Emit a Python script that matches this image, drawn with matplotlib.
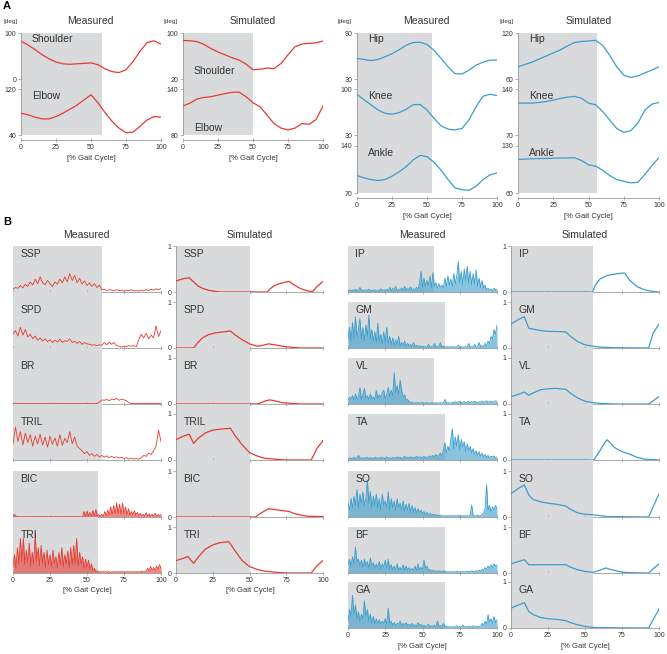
import numpy as np
import matplotlib.pyplot as plt

plt.rcParams['font.family'] = ['Liberation Sans', 'DejaVu Sans']

RED = '#e53b30'
BLUE = '#3a9dcb'
SHADE = '#d9dadb'
AXC = '#9a9a9a'
TXT = '#333333'
W, H = 667, 654

gait = np.arange(0, 101, 5)
xticks = [0, 25, 50, 75, 100]

# ---------------- A: joint angles [deg], every 5 % of gait cycle ----------------
shoulder_meas = [82, 74, 64, 53, 44, 37, 33, 32, 33, 34, 35, 31, 22, 16, 14, 20, 38, 60, 79, 83, 76]
elbow_meas = [78, 75, 71, 68, 68, 72, 78, 85, 92, 101, 110, 96, 79, 64, 52, 44, 45, 55, 66, 72, 71]
shoulder_sim = [87, 86.5, 85, 80, 73, 67, 62, 57, 53, 46, 36, 37, 39, 38, 47, 62, 76, 81, 82, 83, 86]
elbow_sim = [118, 121.6, 127, 129, 130, 132, 134, 135.6, 136, 130, 122, 117, 106, 95, 89, 86.6, 89, 95, 94, 100, 118]
hip_meas = [57, 55.5, 54, 55.5, 59, 63, 68, 74, 77.5, 78, 75, 67.5, 57, 46, 37, 36.5, 41.6, 48, 52, 54.6, 54.6]
knee_meas = [92, 83.6, 76, 68, 63, 61.7, 64, 69, 76, 76.5, 68, 55.5, 44, 39, 37.7, 40, 53, 73, 89, 92, 90]
ankle_meas = [96, 92.5, 90, 88.5, 90, 95, 101.5, 109, 119, 126, 124, 116, 104, 90, 77.5, 75, 74, 80, 90, 97, 100]
hip_sim = [76, 79, 82, 86, 90, 94, 98, 103, 107.5, 109, 109.6, 110.5, 104, 91, 76, 65, 62, 64, 68, 71.7, 76]
knee_sim = [118.5, 118.5, 118.5, 119.5, 121, 123, 125.7, 127.5, 128.8, 126, 118.5, 116, 106, 93, 80, 74, 76.6, 88, 108, 117, 119.6]
ankle_sim = [110, 110.5, 111, 111.2, 111.5, 111.8, 112, 112.2, 112.5, 108.5, 102, 100, 94, 86, 80, 77.5, 75, 76, 87.5, 101, 112.5]

# ---------------- B: measured EMG (normalised), evenly spaced over the cycle ----------------
ssp_meas = [0.06, 0.10, 0.08, 0.14, 0.09, 0.17, 0.12, 0.22, 0.15, 0.28, 0.18, 0.33, 0.20, 0.16, 0.25, 0.18,
            0.12, 0.22, 0.17, 0.28, 0.20, 0.33, 0.22, 0.40, 0.25, 0.36, 0.20, 0.30, 0.17, 0.24, 0.14, 0.20,
            0.12, 0.18, 0.10, 0.15, 0.05, 0.06, 0.03, 0.05, 0.04, 0.03, 0.05, 0.03, 0.04, 0.02, 0.04, 0.03,
            0.05, 0.02, 0.03, 0.02, 0.04, 0.03, 0.05, 0.03, 0.06, 0.04, 0.07, 0.05, 0.08]
spd_meas = [0.30, 0.38, 0.26, 0.45, 0.28, 0.40, 0.24, 0.30, 0.20, 0.26, 0.17, 0.22, 0.15, 0.20, 0.14, 0.18,
            0.12, 0.17, 0.13, 0.19, 0.12, 0.16, 0.14, 0.20, 0.12, 0.15, 0.10, 0.14, 0.08, 0.12, 0.09, 0.08,
            0.06, 0.07, 0.05, 0.07, 0.06, 0.12, 0.07, 0.13, 0.08, 0.12, 0.05, 0.04, 0.02, 0.04, 0.03, 0.05,
            0.04, 0.05, 0.03, 0.18, 0.30, 0.22, 0.32, 0.20, 0.28, 0.22, 0.48, 0.25, 0.38]
br_meas = [0.01, 0.015, 0.01, 0.012, 0.01, 0.015, 0.01, 0.012, 0.01, 0.015, 0.01, 0.012, 0.01, 0.015, 0.01,
           0.012, 0.01, 0.015, 0.01, 0.012, 0.01, 0.015, 0.01, 0.012, 0.01, 0.015, 0.01, 0.012, 0.01, 0.015,
           0.01, 0.012, 0.01, 0.015, 0.01, 0.04, 0.09, 0.08, 0.10, 0.07, 0.11, 0.09, 0.12, 0.08, 0.11, 0.09,
           0.07, 0.03, 0.01, 0.01, 0.012, 0.01, 0.015, 0.01, 0.012, 0.01, 0.015, 0.01, 0.012, 0.01, 0.01]
tril_meas = [0.35, 0.72, 0.40, 0.62, 0.33, 0.58, 0.38, 0.55, 0.30, 0.52, 0.35, 0.56, 0.32, 0.50, 0.28, 0.52,
             0.34, 0.48, 0.30, 0.55, 0.32, 0.47, 0.38, 0.62, 0.35, 0.50, 0.30, 0.25, 0.20, 0.14, 0.18, 0.10,
             0.14, 0.08, 0.12, 0.07, 0.10, 0.06, 0.09, 0.05, 0.08, 0.05, 0.07, 0.04, 0.06, 0.03, 0.05, 0.02,
             0.04, 0.02, 0.03, 0.02, 0.05, 0.10, 0.08, 0.15, 0.12, 0.20, 0.30, 0.65, 0.40]
bic_meas = [0.00, 0.06, 0.00, 0.02, 0.00, 0.01, 0.00, 0.01, 0.00, 0.01,
            0.00, 0.01, 0.00, 0.01, 0.00, 0.01, 0.00, 0.01, 0.00, 0.01,
            0.00, 0.01, 0.00, 0.01, 0.00, 0.01, 0.00, 0.01, 0.00, 0.01,
            0.00, 0.01, 0.00, 0.01, 0.00, 0.01, 0.00, 0.01, 0.00, 0.01,
            0.00, 0.01, 0.00, 0.01, 0.00, 0.01, 0.00, 0.01, 0.12, 0.01,
            0.13, 0.02, 0.10, 0.01, 0.14, 0.02, 0.16, 0.03, 0.05, 0.01,
            0.06, 0.01, 0.12, 0.03, 0.15, 0.04, 0.22, 0.05, 0.25, 0.06,
            0.30, 0.08, 0.28, 0.05, 0.30, 0.07, 0.22, 0.05, 0.18, 0.04,
            0.12, 0.05, 0.14, 0.04, 0.10, 0.03, 0.08, 0.02, 0.06, 0.02,
            0.09, 0.02, 0.07, 0.01, 0.06, 0.02, 0.08, 0.02, 0.05, 0.03, 0.06]
tri_meas = [0.15, 0.40, 0.10, 0.55, 0.20, 0.75, 0.25, 0.75, 0.18, 0.50,
            0.22, 0.65, 0.15, 0.45, 0.20, 0.85, 0.25, 0.55, 0.15, 0.60,
            0.20, 0.45, 0.12, 0.50, 0.18, 0.40, 0.15, 0.50, 0.20, 0.35,
            0.12, 0.45, 0.18, 0.55, 0.15, 0.40, 0.20, 0.48, 0.12, 0.55,
            0.18, 0.60, 0.20, 0.75, 0.15, 0.45, 0.20, 0.35, 0.10, 0.30,
            0.12, 0.28, 0.08, 0.20, 0.05, 0.10, 0.03, 0.05, 0.02, 0.03,
            0.02, 0.03, 0.02, 0.03, 0.02, 0.03, 0.01, 0.03, 0.02, 0.03,
            0.02, 0.03, 0.02, 0.03, 0.02, 0.03, 0.01, 0.03, 0.02, 0.03,
            0.02, 0.03, 0.02, 0.03, 0.02, 0.03, 0.02, 0.04, 0.02, 0.03,
            0.04, 0.10, 0.05, 0.14, 0.06, 0.12, 0.05, 0.15, 0.08, 0.18, 0.10]
ip_meas = [0.03, 0.05, 0.02, 0.04, 0.03, 0.06, 0.02, 0.04, 0.10, 0.03,
           0.04, 0.02, 0.05, 0.03, 0.06, 0.02, 0.04, 0.03, 0.05, 0.02,
           0.04, 0.03, 0.07, 0.02, 0.05, 0.03, 0.06, 0.02, 0.10, 0.03,
           0.08, 0.04, 0.12, 0.03, 0.06, 0.04, 0.09, 0.03, 0.12, 0.04,
           0.08, 0.05, 0.11, 0.04, 0.07, 0.05, 0.10, 0.06, 0.20, 0.45,
           0.10, 0.30, 0.12, 0.25, 0.15, 0.35, 0.10, 0.42, 0.12, 0.20,
           0.08, 0.18, 0.10, 0.15, 0.08, 0.30, 0.12, 0.35, 0.15, 0.28,
           0.12, 0.40, 0.18, 0.35, 0.66, 0.20, 0.45, 0.15, 0.50, 0.25,
           0.56, 0.20, 0.45, 0.15, 0.40, 0.18, 0.48, 0.12, 0.30, 0.10,
           0.25, 0.08, 0.15, 0.05, 0.08, 0.04, 0.06, 0.03, 0.08, 0.04, 0.06]
gm_meas = [0.20, 0.45, 0.15, 0.55, 0.20, 0.68, 0.25, 0.40, 0.64, 0.20,
           0.45, 0.15, 0.50, 0.25, 0.71, 0.20, 0.40, 0.15, 0.35, 0.12,
           0.54, 0.15, 0.30, 0.10, 0.35, 0.12, 0.45, 0.10, 0.25, 0.08,
           0.22, 0.06, 0.18, 0.08, 0.25, 0.05, 0.12, 0.06, 0.15, 0.04,
           0.10, 0.05, 0.08, 0.03, 0.12, 0.04, 0.06, 0.03, 0.05, 0.02,
           0.04, 0.02, 0.03, 0.02, 0.08, 0.02, 0.03, 0.02, 0.10, 0.02,
           0.03, 0.02, 0.12, 0.02, 0.04, 0.02, 0.03, 0.02, 0.02, 0.03,
           0.02, 0.03, 0.02, 0.02, 0.06, 0.02, 0.03, 0.02, 0.02, 0.03,
           0.02, 0.10, 0.02, 0.03, 0.02, 0.08, 0.02, 0.03, 0.12, 0.03,
           0.05, 0.03, 0.10, 0.04, 0.15, 0.10, 0.25, 0.20, 0.40, 0.30, 0.50]
vl_meas = [0.08, 0.15, 0.10, 0.18, 0.08, 0.22, 0.12, 0.15, 0.36, 0.10,
           0.20, 0.34, 0.12, 0.18, 0.10, 0.22, 0.12, 0.15, 0.10, 0.30,
           0.12, 0.20, 0.15, 0.25, 0.30, 0.12, 0.20, 0.36, 0.15, 0.30,
           0.18, 0.68, 0.25, 0.40, 0.20, 0.52, 0.30, 0.15, 0.20, 0.08,
           0.10, 0.05, 0.04, 0.03, 0.02, 0.03, 0.02, 0.03, 0.02, 0.02,
           0.03, 0.02, 0.02, 0.03, 0.02, 0.02, 0.03, 0.02, 0.02, 0.03,
           0.02, 0.02, 0.03, 0.02, 0.02, 0.10, 0.02, 0.03, 0.02, 0.02,
           0.04, 0.03, 0.05, 0.03, 0.04, 0.06, 0.03, 0.04, 0.05, 0.03,
           0.04, 0.06, 0.03, 0.05, 0.04, 0.06, 0.04, 0.03, 0.05, 0.04,
           0.06, 0.03, 0.05, 0.07, 0.04, 0.05, 0.06, 0.04, 0.05, 0.07, 0.06]
ta_meas = [0.03, 0.05, 0.03, 0.04, 0.06, 0.03, 0.05, 0.10, 0.04, 0.05,
           0.03, 0.05, 0.04, 0.06, 0.03, 0.05, 0.04, 0.03, 0.06, 0.04,
           0.05, 0.03, 0.06, 0.04, 0.05, 0.03, 0.07, 0.04, 0.05, 0.03,
           0.06, 0.04, 0.05, 0.07, 0.04, 0.06, 0.03, 0.05, 0.08, 0.04,
           0.06, 0.05, 0.07, 0.04, 0.06, 0.05, 0.08, 0.05, 0.07, 0.05,
           0.06, 0.08, 0.05, 0.07, 0.06, 0.09, 0.06, 0.10, 0.07, 0.12,
           0.08, 0.10, 0.15, 0.08, 0.22, 0.38, 0.15, 0.30, 0.20, 0.45,
           0.68, 0.25, 0.50, 0.30, 0.55, 0.22, 0.45, 0.28, 0.40, 0.18,
           0.35, 0.20, 0.30, 0.15, 0.25, 0.12, 0.20, 0.10, 0.18, 0.08,
           0.15, 0.07, 0.12, 0.06, 0.10, 0.05, 0.08, 0.06, 0.09, 0.05, 0.07]
so_meas = [0.30, 0.15, 0.40, 0.20, 0.45, 0.25, 0.60, 0.20, 0.50, 0.30,
           0.55, 0.25, 0.40, 0.80, 0.30, 0.55, 0.20, 0.45, 0.25, 0.50,
           0.20, 0.40, 0.15, 0.50, 0.25, 0.35, 0.20, 0.55, 0.15, 0.40,
           0.20, 0.35, 0.15, 0.40, 0.20, 0.30, 0.15, 0.35, 0.12, 0.28,
           0.15, 0.30, 0.10, 0.25, 0.12, 0.20, 0.08, 0.18, 0.10, 0.15,
           0.08, 0.12, 0.06, 0.10, 0.05, 0.08, 0.04, 0.06, 0.05, 0.04,
           0.05, 0.03, 0.04, 0.02, 0.03, 0.02, 0.03, 0.02, 0.03, 0.02,
           0.03, 0.02, 0.03, 0.02, 0.04, 0.02, 0.03, 0.02, 0.03, 0.02,
           0.03, 0.02, 0.04, 0.26, 0.03, 0.02, 0.03, 0.04, 0.02, 0.03,
           0.05, 0.10, 0.18, 0.70, 0.15, 0.25, 0.12, 0.22, 0.15, 0.25, 0.18]
bf_meas = [0.20, 0.30, 0.15, 0.35, 0.20, 0.56, 0.25, 0.30, 0.15, 0.28,
           0.12, 0.30, 0.15, 0.25, 0.10, 0.33, 0.15, 0.22, 0.10, 0.20,
           0.12, 0.25, 0.08, 0.20, 0.12, 0.28, 0.10, 0.30, 0.08, 0.18,
           0.06, 0.15, 0.08, 0.20, 0.05, 0.12, 0.07, 0.18, 0.05, 0.15,
           0.06, 0.12, 0.05, 0.10, 0.06, 0.15, 0.05, 0.20, 0.06, 0.12,
           0.08, 0.28, 0.10, 0.15, 0.05, 0.08, 0.04, 0.06, 0.04, 0.05,
           0.03, 0.05, 0.03, 0.04, 0.03, 0.05, 0.02, 0.03, 0.02, 0.03,
           0.02, 0.03, 0.02, 0.04, 0.02, 0.03, 0.02, 0.03, 0.02, 0.03,
           0.03, 0.04, 0.02, 0.05, 0.03, 0.04, 0.05, 0.03, 0.06, 0.04,
           0.08, 0.05, 0.12, 0.08, 0.15, 0.10, 0.18, 0.12, 0.20, 0.15, 0.18]
ga_meas = [0.15, 0.40, 0.25, 0.71, 0.30, 0.50, 0.20, 0.35, 0.15, 0.30,
           0.20, 0.59, 0.25, 0.40, 0.15, 0.30, 0.10, 0.25, 0.08, 0.20,
           0.10, 0.18, 0.08, 0.15, 0.10, 0.20, 0.08, 0.43, 0.10, 0.15,
           0.06, 0.12, 0.05, 0.10, 0.08, 0.15, 0.05, 0.10, 0.06, 0.12,
           0.05, 0.08, 0.04, 0.10, 0.05, 0.07, 0.04, 0.12, 0.05, 0.08,
           0.04, 0.06, 0.03, 0.05, 0.08, 0.03, 0.05, 0.04, 0.06, 0.03,
           0.15, 0.04, 0.05, 0.03, 0.10, 0.03, 0.04, 0.02, 0.03, 0.02,
           0.03, 0.02, 0.03, 0.05, 0.02, 0.03, 0.02, 0.06, 0.02, 0.03,
           0.02, 0.04, 0.02, 0.03, 0.05, 0.02, 0.03, 0.04, 0.02, 0.05,
           0.10, 0.06, 0.15, 0.08, 0.29, 0.12, 0.20, 0.10, 0.25, 0.12, 0.18]

# ---------------- B: simulated activations (x in % gait cycle) ----------------
ssp_sim_x = [0, 5, 9, 12, 15, 18, 22, 26, 30, 62, 64, 67, 70, 74, 77, 80, 85, 90, 93, 96, 100]
ssp_sim = [0.24, 0.29, 0.31, 0.22, 0.13, 0.08, 0.04, 0.015, 0, 0, 0.07, 0.14, 0.18, 0.21, 0.23, 0.16, 0.07, 0.02, 0.01, 0.12, 0.23]
spd_sim_x = [0, 12, 15, 18, 22, 27, 32, 37, 40, 45, 50, 55, 58, 63, 67, 72, 80, 85, 100]
spd_sim = [0, 0, 0.12, 0.22, 0.29, 0.33, 0.35, 0.37, 0.29, 0.18, 0.09, 0.04, 0.05, 0.09, 0.07, 0.04, 0.01, 0, 0]
br_sim_x = [0, 55, 58, 61, 64, 67, 72, 80, 85, 100]
br_sim = [0, 0, 0.03, 0.07, 0.09, 0.07, 0.03, 0.01, 0, 0]
tril_sim_x = [0, 5, 9, 12, 15, 20, 25, 30, 37, 40, 45, 50, 55, 60, 70, 75, 92, 96, 100]
tril_sim = [0.44, 0.52, 0.56, 0.36, 0.47, 0.59, 0.65, 0.67, 0.69, 0.54, 0.33, 0.16, 0.09, 0.04, 0.01, 0, 0, 0.26, 0.42]
bic_sim_x = [0, 54, 58, 63, 70, 77, 80, 85, 90, 100]
bic_sim = [0, 0, 0.09, 0.18, 0.15, 0.12, 0.08, 0.04, 0.015, 0.01]
tri_sim_x = [0, 5, 8, 12, 15, 20, 25, 30, 36, 40, 45, 50, 55, 60, 70, 75, 92, 96, 100]
tri_sim = [0.27, 0.32, 0.36, 0.21, 0.34, 0.52, 0.61, 0.66, 0.68, 0.49, 0.27, 0.14, 0.08, 0.04, 0.01, 0, 0, 0.16, 0.27]
ip_sim_x = [0, 55, 57, 60, 65, 70, 75, 77, 80, 85, 90, 95, 100]
ip_sim = [0, 0, 0.15, 0.28, 0.36, 0.39, 0.41, 0.41, 0.26, 0.12, 0.05, 0.015, 0]
gm_sim_x = [0, 5, 9, 12, 15, 20, 25, 30, 37, 40, 45, 50, 55, 60, 70, 93, 96, 100]
gm_sim = [0.52, 0.62, 0.68, 0.43, 0.41, 0.38, 0.36, 0.36, 0.35, 0.26, 0.14, 0.07, 0.04, 0.02, 0.007, 0, 0.32, 0.52]
vl_sim_x = [0, 5, 9, 12, 15, 20, 25, 30, 37, 40, 45, 50, 55, 60, 70, 93, 100]
vl_sim = [0.16, 0.21, 0.26, 0.19, 0.24, 0.31, 0.33, 0.34, 0.32, 0.24, 0.13, 0.06, 0.03, 0.015, 0, 0, 0.16]
ta_sim_x = [0, 56, 60, 64, 65, 70, 75, 80, 85, 90, 95, 100]
ta_sim = [0, 0, 0.2, 0.41, 0.44, 0.27, 0.18, 0.13, 0.06, 0.02, 0.01, 0]
so_sim_x = [0, 5, 9, 12, 15, 20, 25, 30, 37, 40, 45, 50, 55, 60, 65, 93, 96, 100]
so_sim = [0.51, 0.62, 0.7, 0.48, 0.38, 0.33, 0.3, 0.28, 0.24, 0.17, 0.09, 0.06, 0.05, 0.03, 0.01, 0, 0.22, 0.5]
bf_sim_x = [0, 5, 9, 12, 20, 30, 37, 40, 45, 50, 55, 60, 64, 68, 75, 80, 93, 96, 100]
bf_sim = [0.2, 0.25, 0.29, 0.18, 0.18, 0.18, 0.18, 0.13, 0.07, 0.036, 0.014, 0.06, 0.11, 0.07, 0.02, 0.007, 0, 0.09, 0.2]
ga_sim_x = [0, 5, 9, 12, 15, 20, 25, 30, 37, 40, 45, 50, 55, 60, 93, 96, 100]
ga_sim = [0.43, 0.5, 0.55, 0.36, 0.29, 0.23, 0.2, 0.19, 0.16, 0.12, 0.07, 0.036, 0.014, 0.007, 0, 0.18, 0.41]

arm_names = ['SSP', 'SPD', 'BR', 'TRIL', 'BIC', 'TRI']
leg_names = ['IP', 'GM', 'VL', 'TA', 'SO', 'BF', 'GA']
arm_meas = [ssp_meas, spd_meas, br_meas, tril_meas, bic_meas, tri_meas]
leg_meas = [ip_meas, gm_meas, vl_meas, ta_meas, so_meas, bf_meas, ga_meas]
arm_sim = [(ssp_sim_x, ssp_sim), (spd_sim_x, spd_sim), (br_sim_x, br_sim),
           (tril_sim_x, tril_sim), (bic_sim_x, bic_sim), (tri_sim_x, tri_sim)]
leg_sim = [(ip_sim_x, ip_sim), (gm_sim_x, gm_sim), (vl_sim_x, vl_sim), (ta_sim_x, ta_sim),
           (so_sim_x, so_sim), (bf_sim_x, bf_sim), (ga_sim_x, ga_sim)]
# end of stance phase (grey band) in % gait cycle
arm_meas_stance = [60, 60, 60, 60, 57.5, 57.5]
leg_meas_stance = [58, 65, 58, 65, 62, 65, 65]

fig = plt.figure(figsize=(W / 100, H / 100), dpi=100)


def txt(x, y, s, **kw):
    kw.setdefault('color', TXT)
    kw.setdefault('va', 'center')
    fig.text(x / W, 1 - y / H, s, **kw)


def px_axes(x0, x1, top, bot):
    return fig.add_axes([x0 / W, 1 - bot / H, (x1 - x0) / W, (bot - top) / H])


def style(ax, left, bottom):
    for s in ['top', 'right']:
        ax.spines[s].set_visible(False)
    ax.spines['left'].set_visible(left)
    ax.spines['bottom'].set_visible(bottom)
    for s in ['left', 'bottom']:
        ax.spines[s].set_color(AXC)
        ax.spines[s].set_linewidth(0.6)
    ax.tick_params(colors=AXC, labelcolor=TXT, labelsize=5, length=2, width=0.5, pad=1.2)
    ax.patch.set_visible(False)


def joint(x0, x1, top, bot, hi, hi_px, lo, lo_px, y, color, stance, name, name_y, last):
    ax = px_axes(x0, x1, top, bot)
    s = (lo_px - hi_px) / (hi - lo)
    ax.set_ylim(lo - (bot - lo_px) / s, hi + (hi_px - top) / s)
    ax.set_xlim(0, 100)
    ax.axvspan(0, stance, color=SHADE, lw=0, zorder=0)
    ax.plot(gait, y, color=color, lw=0.9, zorder=3)
    style(ax, True, last)
    ax.set_yticks([lo, hi])
    if last:
        ax.spines['bottom'].set_position(('outward', 3.5))
        ax.set_xticks(xticks)
        ax.tick_params(axis='x', direction='inout', length=3)
    else:
        ax.set_xticks([])
    txt(x0 + 11, name_y, name, fontsize=7.5)


def emg(x0, x1, base, top, x, y, color, stance, full, name, sim, last, spiky):
    ax = px_axes(x0, x1, top, base)
    ymax = (base - top) / 46
    ax.set_ylim(0, ymax)
    ax.set_xlim(0, 100)
    ax.axvspan(0, stance, ymax=1 if full else 1 / ymax, color=SHADE, lw=0, zorder=0)
    if spiky:
        ax.fill_between(x, 0, y, color=color, alpha=0.6, lw=0, zorder=2)
    ax.plot(x, y, color=color, lw=0.9 if sim else 0.6, zorder=3)
    style(ax, sim, True)
    ax.set_xticks(xticks)
    ax.tick_params(axis='x', direction='inout', length=3, labelbottom=last)
    if sim:
        ax.set_yticks([0, 1])
        ax.set_yticklabels(['0', '1'])
    else:
        ax.set_yticks([])
    txt(x0 + 7.5, base - 38, name, fontsize=7.5)


# ---------------- panel A ----------------
txt(3, 6, 'A', fontsize=8, fontweight='bold', color='black')
for cx, title in [(90, 'Measured'), (253, 'Simulated'), (426, 'Measured'), (589, 'Simulated')]:
    txt(cx, 21, title, fontsize=7.5, ha='center')
for cx in [11, 171, 345, 507]:
    txt(cx, 21, '[deg]', fontsize=4.5, ha='center')

joint(21, 161, 33, 84, 100, 33, 0, 79, shoulder_meas, RED, 58, 'Shoulder', 39, False)
joint(21, 161, 84, 135, 120, 89, 40, 135, elbow_meas, RED, 58, 'Elbow', 96, True)
joint(183, 323, 33, 84, 100, 33, 20, 79, shoulder_sim, RED, 50, 'Shoulder', 71, False)
joint(183, 323, 84, 135, 140, 89, 80, 135, elbow_sim, RED, 50, 'Elbow', 128, True)

joint(357, 497, 33, 84, 90, 33, 30, 79, hip_meas, BLUE, 53.5, 'Hip', 39, False)
joint(357, 497, 84, 140, 100, 89, 30, 135, knee_meas, BLUE, 53.5, 'Knee', 96, False)
joint(357, 497, 140, 193, 140, 146, 70, 193, ankle_meas, BLUE, 53.5, 'Ankle', 153, True)
joint(518, 659, 33, 84, 120, 33, 60, 79, hip_sim, BLUE, 56, 'Hip', 39, False)
joint(518, 659, 84, 140, 140, 89, 70, 135, knee_sim, BLUE, 56, 'Knee', 96, False)
joint(518, 659, 140, 193, 130, 146, 60, 193, ankle_sim, BLUE, 56, 'Ankle', 153, True)

txt(91, 159, '[% Gait Cycle]', fontsize=5.5, ha='center')
txt(253, 159, '[% Gait Cycle]', fontsize=5.5, ha='center')
txt(427, 216, '[% Gait Cycle]', fontsize=5.5, ha='center')
txt(588, 216, '[% Gait Cycle]', fontsize=5.5, ha='center')

# ---------------- panel B ----------------
txt(3, 222, 'B', fontsize=8, fontweight='bold', color='black')
for cx, title in [(86, 'Measured'), (250, 'Simulated'), (422, 'Measured'), (585, 'Simulated')]:
    txt(cx, 235, title, fontsize=7.5, ha='center')

arm_base = [292, 348, 404, 460, 517, 573]
leg_base = [292, 348, 404, 460, 517, 573, 628]
arm_full = [True, True, True, True, False, True]

for i, name in enumerate(arm_names):
    base = arm_base[i]
    top = base - 46 if i == 0 else arm_base[i - 1]
    last = i == len(arm_names) - 1
    ym = arm_meas[i]
    xm = np.linspace(0, 100, len(ym))
    emg(13, 161, base, top, xm, ym, RED, arm_meas_stance[i], arm_full[i], name, False, last, name in ('BIC', 'TRI'))
    xs, ys = arm_sim[i]
    emg(176, 323, base, top, xs, ys, RED, 50, True, name, True, last, False)

for i, name in enumerate(leg_names):
    base = leg_base[i]
    top = base - 46 if i == 0 else leg_base[i - 1]
    last = i == len(leg_names) - 1
    ym = leg_meas[i]
    xm = np.linspace(0, 100, len(ym))
    emg(348, 497, base, top, xm, ym, BLUE, leg_meas_stance[i], False, name, False, last, True)
    xs, ys = leg_sim[i]
    emg(511, 659, base, top, xs, ys, BLUE, 55.5, True, name, True, last, False)

txt(87, 591, '[% Gait Cycle]', fontsize=5.5, ha='center')
txt(250, 591, '[% Gait Cycle]', fontsize=5.5, ha='center')
txt(422, 646, '[% Gait Cycle]', fontsize=5.5, ha='center')
txt(585, 646, '[% Gait Cycle]', fontsize=5.5, ha='center')

fig.savefig('out.png', dpi=100, facecolor='white')
